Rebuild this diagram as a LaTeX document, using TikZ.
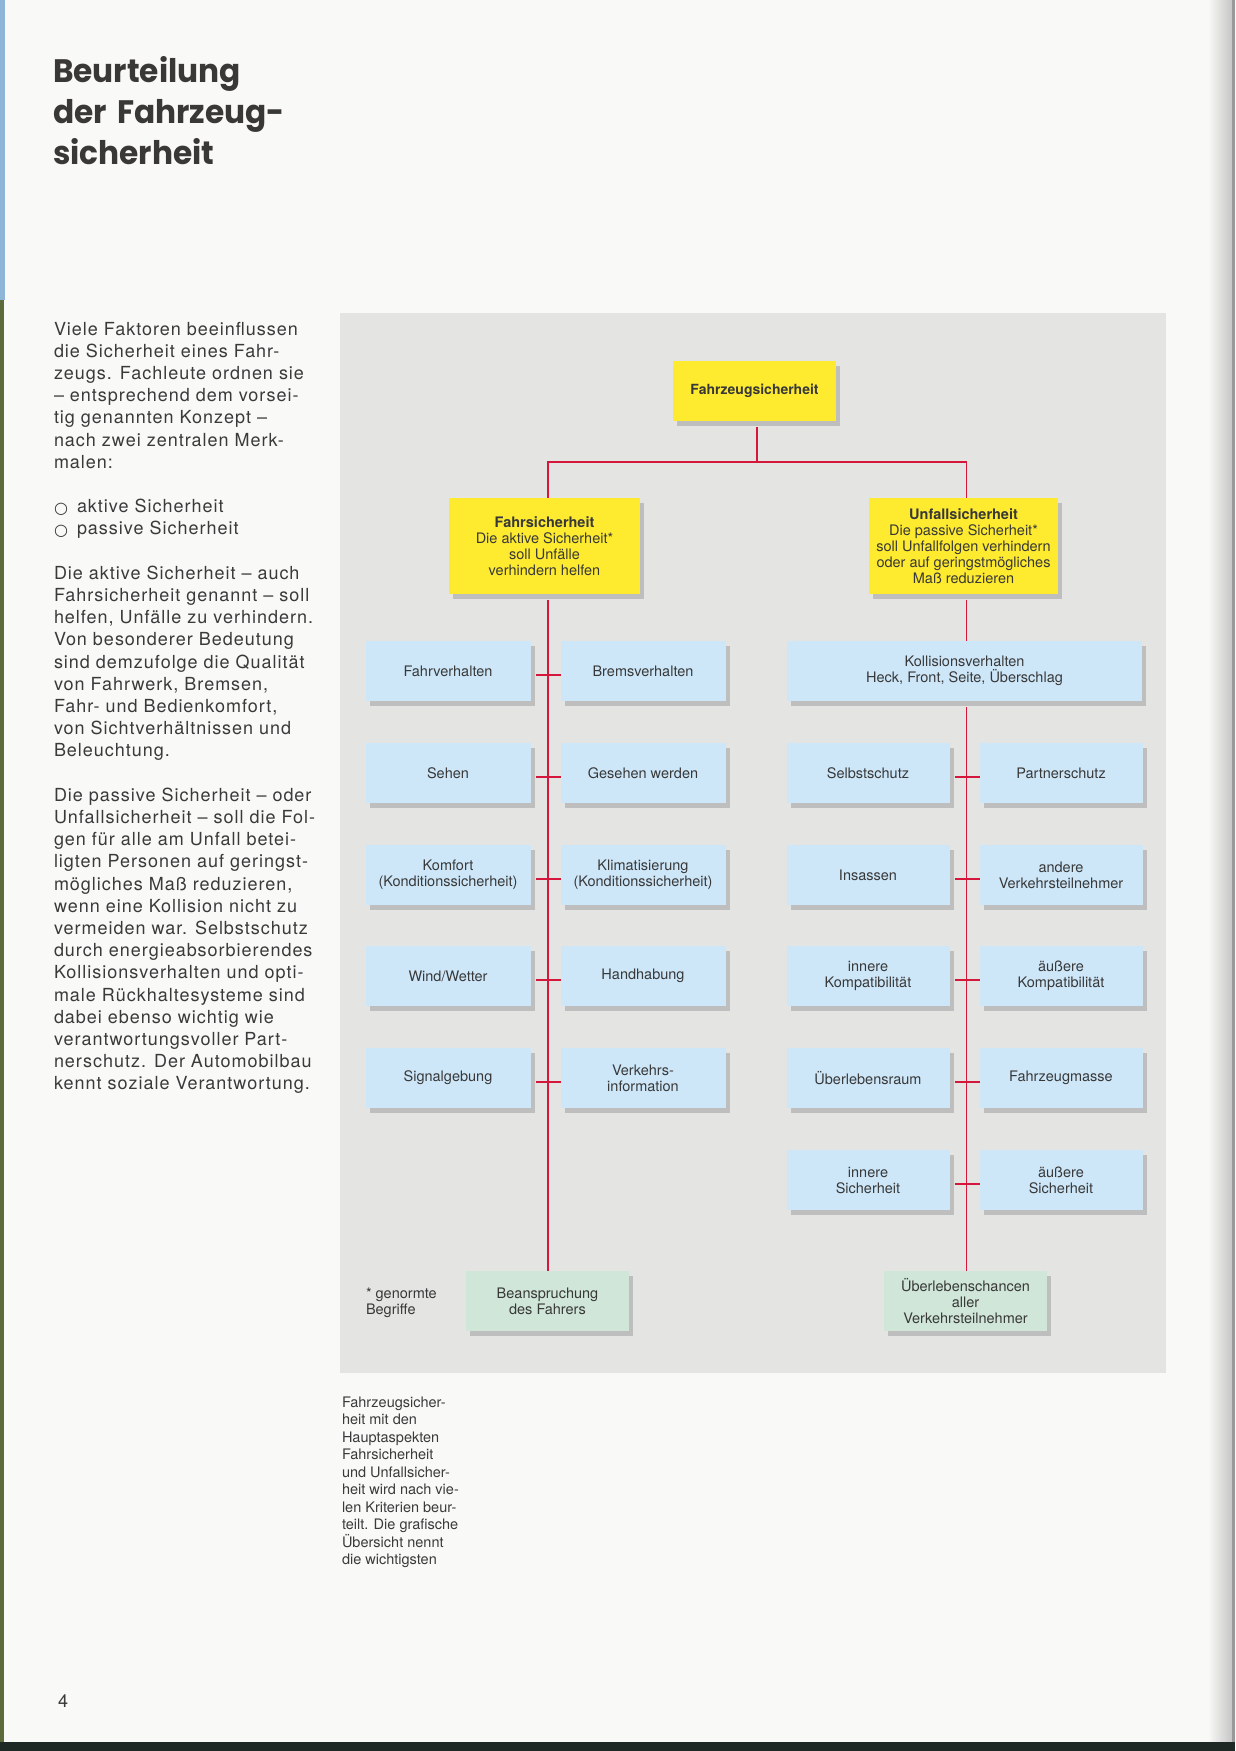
\documentclass[tikz,border=0pt]{standalone}
\usepackage{fontspec}
\setmainfont{TeX Gyre Heros}
\newfontfamily\bodyfont[LetterSpace=5.5,Ligatures=TeX]{TeX Gyre Heros}
\newfontfamily\titlefont[FakeStretch=0.96,WordSpace=1.6]{Poppins}
\newfontfamily\dvsfont{DejaVu Sans}
\usetikzlibrary{shadows}
\definecolor{pagebg}{HTML}{F9F9F7}
\definecolor{panelgray}{HTML}{E4E4E2}
\definecolor{boxyellow}{HTML}{FEEB30}
\definecolor{boxblue}{HTML}{CDE7F9}
\definecolor{boxgreen}{HTML}{CFE6D8}
\definecolor{shadowgray}{HTML}{BEBEBE}
\definecolor{linered}{HTML}{D4173A}
\definecolor{textgray}{HTML}{383838}
\definecolor{bodygray}{HTML}{3A3A3A}
\definecolor{titlegray}{HTML}{3A3836}
\definecolor{edgeblue}{HTML}{8DB6D8}
\definecolor{edgegreen}{HTML}{5D6B3A}
\definecolor{bottomdark}{HTML}{1E2824}
\newcommand\ringbul{\makebox[23pt][l]{\raisebox{-0.5pt}{\dvsfont\bfseries\fontsize{16}{16}\selectfont ○}}}
\begin{document}
\begin{tikzpicture}[x=1pt,y=-1pt,
  every node/.style={inner sep=0pt, outer sep=0pt, text=textgray},
  boxbase/.style={rectangle, align=center, font=\fontsize{14.5}{16}\selectfont,
    general shadow={fill=shadowgray, shadow xshift=4pt, shadow yshift=-5pt}},
  ybox/.style={boxbase, fill=boxyellow},
  bbox/.style={boxbase, fill=boxblue, minimum width=165pt, minimum height=60pt},
  gbox/.style={boxbase, fill=boxgreen, minimum width=163pt, minimum height=60pt},
  redline/.style={draw=linered, line width=1.6pt}]
\useasboundingbox (0,0) rectangle (1235,1751);
% page
\fill[pagebg] (0,0) rectangle (1235,1751);
\shade[left color=pagebg, right color=black!25] (1208,0) rectangle (1235,1742);
\fill[black!40] (1232,0) rectangle (1235,1742);
\fill[edgeblue] (0,0) rectangle (5,300);
\fill[edgegreen] (0,300) rectangle (4,1742);
\fill[bottomdark] (0,1742) rectangle (1235,1751);
% title
\node[anchor=base west, text=titlegray] (title) at (53,82)
  {\parbox[t]{320pt}{\titlefont\bfseries\fontsize{32.5}{41}\selectfont Beurteilung\\der Fahrzeug-\\sicherheit}};
% body text
\node[anchor=base west, text=bodygray] (body) at (54,335) {\parbox[t]{330pt}{\bodyfont\fontsize{18}{22.2}\selectfont\raggedright
Viele Faktoren beeinflussen\\
die Sicherheit eines Fahr-\\
zeugs. Fachleute ordnen sie\\
– entsprechend dem vorsei-\\
tig genannten Konzept –\\
nach zwei zentralen Merk-\\
malen:\par\vspace{22.2pt}
\ringbul aktive Sicherheit\\
\ringbul passive Sicherheit\par\vspace{22.2pt}
Die aktive Sicherheit – auch\\
Fahrsicherheit genannt – soll\\
helfen, Unfälle zu verhindern.\\
Von besonderer Bedeutung\\
sind demzufolge die Qualität\\
von Fahrwerk, Bremsen,\\
Fahr- und Bedienkomfort,\\
von Sichtverhältnissen und\\
Beleuchtung.\par\vspace{22.2pt}
Die passive Sicherheit – oder\\
Unfallsicherheit – soll die Fol-\\
gen für alle am Unfall betei-\\
ligten Personen auf geringst-\\
mögliches Maß reduzieren,\\
wenn eine Kollision nicht zu\\
vermeiden war. Selbstschutz\\
durch energieabsorbierendes\\
Kollisionsverhalten und opti-\\
male Rückhaltesysteme sind\\
dabei ebenso wichtig wie\\
verantwortungsvoller Part-\\
nerschutz. Der Automobilbau\\
kennt soziale Verantwortung.}};
% page number
\node[anchor=base west, text=bodygray] (pnum) at (58,1707) {\fontsize{18}{18}\selectfont 4};
% panel
\fill[panelgray] (340,313) rectangle (1166,1373);
% caption
\node[anchor=base west, text=bodygray] (caption) at (342,1407) {\parbox[t]{200pt}{\fontsize{14.5}{17.5}\selectfont\raggedright
Fahrzeugsicher-\\heit mit den\\Hauptaspekten\\Fahrsicherheit\\und Unfallsicher-\\heit wird nach vie-\\len Kriterien beur-\\teilt. Die grafische\\Übersicht nennt\\die wichtigsten}};
% footnote
\node[anchor=base west] (note) at (366,1298) {\parbox[t]{100pt}{\fontsize{14.5}{16}\selectfont\raggedright * genormte\\Begriffe}};
% nodes
\node[ybox, minimum width=163pt, minimum height=60pt, font=\bfseries\fontsize{14}{16}\selectfont] (top) at (754.5,391) {Fahrzeugsicherheit};
\node[ybox, minimum width=191pt, minimum height=96pt] (fs) at (544.5,546)
  {\textbf{Fahrsicherheit}\\Die aktive Sicherheit*\\soll Unfälle\\verhindern helfen};
\node[ybox, minimum width=189pt, minimum height=96pt] (us) at (963.5,546)
  {\textbf{Unfallsicherheit}\\Die passive Sicherheit*\\soll Unfallfolgen verhindern\\oder auf geringstmögliches\\Maß reduzieren};
% left columns
\node[bbox] (a1) at (448,671) {Fahrverhalten};
\node[bbox] (b1) at (643,671) {Bremsverhalten};
\node[bbox] (a2) at (448,773) {Sehen};
\node[bbox] (b2) at (643,773) {Gesehen werden};
\node[bbox] (a3) at (448,875) {Komfort\\(Konditionssicherheit)};
\node[bbox] (b3) at (643,875) {Klimatisierung\\(Konditionssicherheit)};
\node[bbox] (a4) at (448,976) {Wind/Wetter};
\node[bbox] (b4) at (643,976) {Handhabung};
\node[bbox] (a5) at (448,1078) {Signalgebung};
\node[bbox] (b5) at (643,1078) {Verkehrs-\\information};
% right columns
\node[bbox, minimum width=355pt] (kol) at (964.5,671) {Kollisionsverhalten\\Heck, Front, Seite, Überschlag};
\node[bbox, minimum width=163pt] (c2) at (868,773) {Selbstschutz};
\node[bbox, minimum width=163pt] (d2) at (1061,773) {Partnerschutz};
\node[bbox, minimum width=163pt] (c3) at (868,875) {Insassen};
\node[bbox, minimum width=163pt] (d3) at (1061,875) {andere\\Verkehrsteilnehmer};
\node[bbox, minimum width=163pt] (c4) at (868,976) {innere\\Kompatibilität};
\node[bbox, minimum width=163pt] (d4) at (1061,976) {äußere\\Kompatibilität};
\node[bbox, minimum width=163pt] (c5) at (868,1078) {Überlebensraum};
\node[bbox, minimum width=163pt] (d5) at (1061,1078) {Fahrzeugmasse};
\node[bbox, minimum width=163pt] (c6) at (868,1180) {innere\\Sicherheit};
\node[bbox, minimum width=163pt] (d6) at (1061,1180) {äußere\\Sicherheit};
% bottom
\node[gbox] (bean) at (547.5,1301) {Beanspruchung\\des Fahrers};
\node[gbox] (ueb) at (965.5,1301) {Überlebenschancen\\aller\\Verkehrsteilnehmer};
% connectors
\coordinate (T) at (757,462);
\coordinate (L) at (548,462);
\coordinate (R) at (966.5,462);
\draw[redline] ([yshift=-6pt]top.south -| T) -- (T);
\draw[redline] (fs.north -| L) -- (L) -- (R) -- (us.north -| R);
\draw[redline] ([yshift=-6pt]fs.south -| L) -- (bean.north -| L);
\draw[redline] ([yshift=-6pt]us.south -| R) -- (kol.north -| R);
\draw[redline] ([yshift=-6pt]kol.south -| R) -- (ueb.north -| R);
\foreach \i in {1,...,5} \draw[redline] ([shift={(5,4)}]a\i.east) -- ([shift={(0,4)}]b\i.west);
\foreach \i in {2,...,6} \draw[redline] ([shift={(5,4)}]c\i.east) -- ([shift={(0,4)}]d\i.west);
\end{tikzpicture}
\end{document}
